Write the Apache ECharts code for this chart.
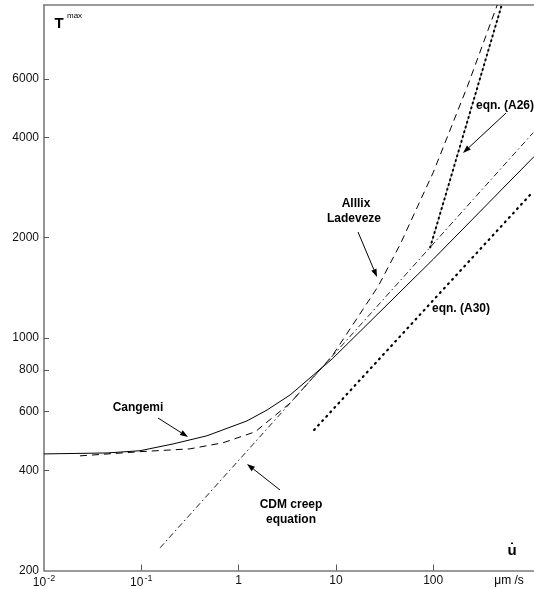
<!DOCTYPE html>
<html><head><meta charset="utf-8">
<script src="https://cdn.jsdelivr.net/npm/echarts@6/dist/echarts.min.js"></script>
<style>html,body{margin:0;padding:0;background:#fff}#c{width:534px;height:589px}</style>
</head><body><div id="c"></div>
<script>
// ---- data (log-log axes) ----
const xTickValues = [0.01, 0.1, 1, 10, 100];
const xTickLabels = ['10|-2', '10|-1', '1', '10', '100'];
const yTickValues = [200, 400, 600, 800, 1000, 2000, 4000, 6000];

const cangemiU = [0.01, 0.0445, 0.097, 0.212, 0.474, 1.22, 1.96, 3.39, 9.15, 100, 1094];
const cangemiT = [448, 451, 458, 480, 508, 563, 607, 674, 864, 1722, 3510];

const allixU = [0.0234, 0.097, 0.317, 0.693, 1.48, 3.39, 9.15, 15.8, 27.2, 45.8, 100, 224, 455];
const allixT = [442, 455, 464, 484, 522, 637, 882, 1123, 1429, 1910, 3139, 5681, 10000];

const cdmU = [0.156, 1067];
const cdmT = [234, 4136];

const a30U = [5.97, 1067];
const a30T = [529, 2753];

const a26U = [93.1, 506];
const a26T = [1870, 10000];

// ---- helpers ----
const L = Math.log10;
const pts = (U, T) => U.map((u, i) => [L(u), L(T[i])]);
const FONT = 'Liberation Sans, Arial, Helvetica, sans-serif';

function arrow(x1, y1, x2, y2) {
  const a = Math.atan2(y2 - y1, x2 - x1), len = 8, hw = 2.8;
  const bx = x2 - len * Math.cos(a), by = y2 - len * Math.sin(a);
  const px = -Math.sin(a) * hw, py = Math.cos(a) * hw;
  return [
    { type: 'line', shape: { x1, y1, x2: bx, y2: by }, style: { stroke: '#000', lineWidth: 1 }, silent: true },
    { type: 'polygon', shape: { points: [[x2, y2], [bx + px, by + py], [bx - px, by - py]] }, style: { fill: '#000' }, silent: true }
  ];
}
function txt(x, y, s, opt) {
  return Object.assign({ type: 'text', x, y, silent: true,
    style: Object.assign({ text: s, fill: '#000', font: 'bold 12px ' + FONT, align: 'center', verticalAlign: 'middle' }, opt || {}) });
}

const chart = echarts.init(document.getElementById('c'), null, { renderer: 'canvas' });
const line = (name, data, style, z) => ({
  name, type: 'line', data, showSymbol: false, symbol: 'none', silent: true,
  lineStyle: style, z: z || 2, animation: false
});

chart.setOption({
  animation: false,
  backgroundColor: '#fff',
  grid: { left: 44, right: 0, top: 5, bottom: 17, containLabel: false },
  xAxis: [{
    type: 'value', min: -2, max: 3.036,
    axisLine: { onZero: false, lineStyle: { color: '#7a7a7a', width: 1.6 } },
    splitLine: { show: false },
    axisTick: { inside: true, length: 6, customValues: [-1, 0, 1, 2], lineStyle: { color: '#555', width: 1 } },
    axisLabel: {
      customValues: xTickValues.map(L), margin: 4,
      formatter: v => {
        const i = xTickValues.findIndex(t => Math.abs(L(t) - v) < 1e-6);
        const s = i >= 0 ? xTickLabels[i] : '';
        if (s.indexOf('|') >= 0) { const p = s.split('|'); return '{b|' + p[0] + '}{s|' + p[1] + '}'; }
        return '{b|' + s + '}';
      },
      rich: {
        b: { fontSize: 12, fontFamily: FONT, color: '#111' },
        s: { fontSize: 9, fontFamily: FONT, color: '#111', padding: [0, 0, 8, 1] }
      }
    }
  }, {
    type: 'value', position: 'top', min: -2, max: 3.036,
    axisLine: { onZero: false, lineStyle: { color: '#7a7a7a', width: 1.6 } },
    axisTick: { show: false }, axisLabel: { show: false }, splitLine: { show: false }
  }],
  yAxis: {
    type: 'value', min: L(200), max: 4,
    axisLine: { onZero: false, lineStyle: { color: '#7a7a7a', width: 1.6 } },
    splitLine: { show: false },
    axisTick: { inside: true, length: 5, customValues: yTickValues.slice(1).map(L), lineStyle: { color: '#555', width: 1 } },
    axisLabel: {
      customValues: yTickValues.map(L), margin: 5,
      fontSize: 12, fontFamily: FONT, color: '#111',
      formatter: v => String(Math.round(Math.pow(10, v)))
    }
  },
  series: [
    line('Cangemi', pts(cangemiU, cangemiT), { color: '#000', width: 1 }),
    line('Alllix Ladeveze', pts(allixU, allixT), { color: '#000', width: 1, type: [7, 5] }),
    line('CDM creep equation', pts(cdmU, cdmT), { color: '#222', width: 1, type: [6, 3, 1.5, 3] }),
    line('eqn. (A30)', pts(a30U, a30T), { color: '#000', width: 2.2, type: [1, 5], cap: 'round' }),
    line('eqn. (A26) base', pts(a26U, a26T), { color: '#aaa', width: 1 }, 1),
    line('eqn. (A26)', pts(a26U, a26T), { color: '#000', width: 2, type: [1, 4], cap: 'round' }, 3)
  ],
  graphic: [
    txt(59, 24, 'T', { font: 'bold 15px ' + FONT }),
    txt(67, 16, 'max', { font: '8px ' + FONT, align: 'left' }),
    txt(512, 551, 'u\u0307', { font: 'bold 15px ' + FONT }),
    txt(509, 581, '\u03bcm /s', { font: '12px ' + FONT }),
    txt(138, 408, 'Cangemi'),
    txt(291, 505, 'CDM creep'),
    txt(291, 520, 'equation'),
    txt(356, 204, 'Alllix'),
    txt(354, 219, 'Ladeveze'),
    txt(461, 309, 'eqn. (A30)'),
    txt(476, 106, 'eqn. (A26)', { align: 'left' }),
    ...arrow(158, 418, 188, 437),
    ...arrow(280, 490, 247, 464),
    ...arrow(358, 232, 377, 277),
    ...arrow(506, 113, 463, 153)
  ]
});
</script></body></html>
